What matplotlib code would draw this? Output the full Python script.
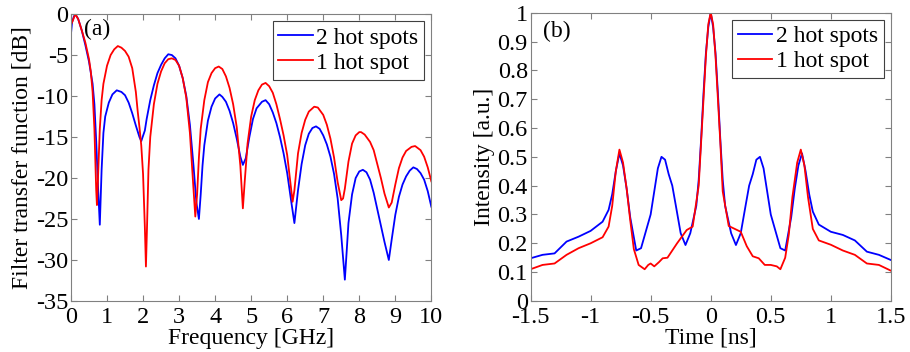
import numpy as np
import matplotlib
matplotlib.use("Agg")
import matplotlib.pyplot as plt

plt.rcParams['font.family'] = ['Liberation Serif', 'DejaVu Serif']
plt.rcParams['font.size'] = 17
plt.rcParams['axes.unicode_minus'] = False

# (a) filter transfer function
freq_2 = [0.0, 0.03, 0.08, 0.12, 0.2, 0.3, 0.4, 0.5, 0.6, 0.65, 0.7, 0.75, 0.8, 0.85, 0.9,
          0.95, 1.05, 1.15, 1.27, 1.4, 1.5, 1.6, 1.7, 1.8, 1.9, 1.95, 2.05, 2.1, 2.2, 2.3,
          2.4, 2.5, 2.6, 2.7, 2.8, 2.9, 3.0, 3.1, 3.2, 3.3, 3.4, 3.48, 3.55, 3.6, 3.65, 3.7,
          3.8, 3.9, 4.0, 4.12, 4.2, 4.3, 4.4, 4.5, 4.6, 4.7, 4.77, 4.85, 4.95, 5.05, 5.15,
          5.3, 5.4, 5.5, 5.6, 5.7, 5.8, 5.9, 6.0, 6.1, 6.2, 6.3, 6.4, 6.5, 6.6, 6.7, 6.8,
          6.9, 7.0, 7.1, 7.2, 7.3, 7.4, 7.5, 7.6, 7.65, 7.7, 7.8, 7.9, 8.0, 8.1, 8.2, 8.3,
          8.4, 8.5, 8.6, 8.7, 8.82, 8.9, 9.0, 9.1, 9.2, 9.3, 9.4, 9.5, 9.6, 9.7, 9.8, 9.9, 10.0]
db_2 = [-2.4, -1.0, -0.3, 0.0, -0.6, -2.0, -3.8, -5.8, -8.5, -11.0, -15.5, -21.0, -25.7, -19.0,
        -14.5, -12.5, -10.8, -9.8, -9.3, -9.5, -9.9, -10.8, -12.1, -13.6, -15.0, -15.5, -14.2,
        -12.8, -10.5, -8.7, -7.2, -6.2, -5.4, -4.9, -5.0, -5.4, -6.3, -7.8, -10.0, -13.5,
        -18.5, -23.0, -25.0, -22.0, -18.5, -16.0, -13.0, -11.3, -10.3, -9.8, -10.1, -10.7,
        -11.8, -13.3, -15.2, -17.4, -18.4, -17.6, -15.0, -12.8, -11.5, -10.7, -10.5, -11.0,
        -12.0, -13.3, -15.0, -17.0, -19.4, -22.5, -25.5, -21.5, -18.3, -16.0, -14.6, -13.9,
        -13.7, -14.0, -14.8, -15.9, -17.4, -19.5, -22.5, -27.0, -32.4, -29.0, -25.5, -22.0,
        -20.0, -19.2, -19.0, -19.3, -20.2, -21.8, -23.8, -25.8, -27.8, -30.0, -27.5, -24.5,
        -22.3, -20.8, -19.8, -19.1, -18.7, -18.9, -19.4, -20.2, -21.6, -23.5]

freq_1 = [0.0, 0.05, 0.12, 0.2, 0.3, 0.4, 0.5, 0.55, 0.6, 0.65, 0.7, 0.72, 0.75, 0.8, 0.85,
          0.9, 1.0, 1.1, 1.2, 1.3, 1.4, 1.5, 1.6, 1.7, 1.8, 1.85, 1.9, 1.95, 2.0, 2.05, 2.08,
          2.11, 2.15, 2.2, 2.3, 2.4, 2.5, 2.6, 2.7, 2.8, 2.9, 3.0, 3.1, 3.2, 3.3, 3.38, 3.45,
          3.5, 3.55, 3.6, 3.7, 3.8, 3.9, 4.0, 4.1, 4.2, 4.3, 4.4, 4.5, 4.6, 4.7, 4.77, 4.82,
          4.9, 5.0, 5.1, 5.2, 5.3, 5.4, 5.5, 5.6, 5.7, 5.8, 5.9, 6.0, 6.1, 6.15, 6.2, 6.3,
          6.4, 6.5, 6.6, 6.75, 6.85, 7.0, 7.1, 7.2, 7.3, 7.4, 7.5, 7.55, 7.6, 7.7, 7.8, 7.9,
          8.0, 8.05, 8.15, 8.3, 8.4, 8.5, 8.6, 8.7, 8.82, 8.9, 9.0, 9.1, 9.2, 9.3, 9.45, 9.55,
          9.7, 9.8, 9.9, 10.0]
db_1 = [-1.3, -0.8, 0.0, -0.6, -2.0, -3.5, -5.5, -7.0, -9.5, -14.0, -21.5, -23.3, -20.0, -14.0,
        -10.5, -8.5, -6.3, -5.0, -4.3, -3.9, -4.1, -4.5, -5.2, -6.6, -9.5, -11.8, -13.8, -16.0,
        -19.5, -26.0, -30.8, -26.0, -19.0, -15.0, -11.0, -8.5, -7.0, -6.0, -5.5, -5.4, -5.6,
        -6.3, -7.8, -10.2, -14.5, -20.0, -24.7, -22.0, -17.5, -14.0, -10.5, -8.3, -7.2, -6.6,
        -6.4, -6.7, -7.6, -9.0, -11.0, -13.8, -18.5, -23.7, -20.5, -15.8, -12.5, -10.5, -9.3,
        -8.6, -8.4, -8.8, -9.6, -11.0, -12.8, -14.8, -17.2, -21.0, -22.9, -21.5, -17.0, -14.5,
        -12.9, -11.9, -11.3, -11.4, -12.3, -13.5, -15.2, -17.5, -20.5, -22.7, -22.5, -21.3,
        -18.0, -15.8, -14.8, -14.4, -14.4, -14.7, -15.6, -16.6, -18.3, -20.0, -21.9, -23.6,
        -23.0, -20.8, -18.8, -17.5, -16.7, -16.2, -16.1, -16.6, -17.4, -18.7, -20.4]

# (b) intensity vs time
time_2 = [-1.5, -1.4, -1.3, -1.2, -1.1, -1.0, -0.9, -0.85, -0.82, -0.79, -0.76, -0.73, -0.7,
          -0.67, -0.62, -0.58, -0.5, -0.47, -0.44, -0.41, -0.38, -0.35, -0.32, -0.29, -0.25,
          -0.21, -0.17, -0.12, -0.1, -0.08, -0.06, -0.04, -0.02, 0.0, 0.02, 0.04, 0.06, 0.08,
          0.1, 0.12, 0.17, 0.21, 0.25, 0.29, 0.32, 0.35, 0.38, 0.41, 0.44, 0.47, 0.5, 0.58,
          0.62, 0.67, 0.7, 0.73, 0.76, 0.79, 0.82, 0.85, 0.9, 1.0, 1.1, 1.2, 1.3, 1.4, 1.5]
inten_2 = [0.148, 0.16, 0.165, 0.206, 0.223, 0.243, 0.275, 0.316, 0.37, 0.45, 0.512, 0.47, 0.39,
           0.29, 0.175, 0.183, 0.30, 0.38, 0.46, 0.50, 0.49, 0.44, 0.40, 0.33, 0.235, 0.194,
           0.235, 0.33, 0.42, 0.56, 0.72, 0.86, 0.95, 1.0, 0.95, 0.86, 0.72, 0.56, 0.42, 0.33,
           0.235, 0.194, 0.235, 0.33, 0.40, 0.44, 0.49, 0.50, 0.46, 0.38, 0.30, 0.183, 0.175,
           0.29, 0.39, 0.47, 0.512, 0.45, 0.37, 0.31, 0.265, 0.24, 0.229, 0.21, 0.171, 0.16,
           0.142]

time_1 = [-1.5, -1.4, -1.3, -1.2, -1.1, -1.0, -0.9, -0.85, -0.82, -0.79, -0.76, -0.73, -0.7,
          -0.67, -0.64, -0.6, -0.55, -0.52, -0.5, -0.47, -0.43, -0.4, -0.36, -0.32, -0.28,
          -0.2, -0.15, -0.1, -0.08, -0.06, -0.04, -0.02, 0.0, 0.02, 0.04, 0.06, 0.08, 0.1,
          0.15, 0.2, 0.25, 0.3, 0.35, 0.4, 0.45, 0.5, 0.55, 0.58, 0.62, 0.65, 0.68, 0.72,
          0.75, 0.78, 0.81, 0.85, 0.9, 1.0, 1.1, 1.2, 1.3, 1.4, 1.5]
inten_1 = [0.11, 0.125, 0.13, 0.16, 0.183, 0.2, 0.221, 0.258, 0.33, 0.45, 0.525, 0.48, 0.39,
           0.28, 0.18, 0.125, 0.11, 0.125, 0.13, 0.12, 0.135, 0.148, 0.15, 0.175, 0.2, 0.246,
           0.258, 0.40, 0.55, 0.70, 0.85, 0.96, 1.0, 0.96, 0.85, 0.70, 0.55, 0.38, 0.26, 0.25,
           0.24, 0.19, 0.155, 0.148, 0.125, 0.125, 0.12, 0.11, 0.15, 0.23, 0.36, 0.48, 0.525,
           0.47, 0.36, 0.25, 0.21, 0.195, 0.175, 0.16, 0.13, 0.125, 0.105]

fig = plt.figure(figsize=(9.1, 3.52), dpi=100)
ax1 = fig.add_axes([0.078, 0.145, 0.396, 0.815])
ax2 = fig.add_axes([0.583, 0.145, 0.396, 0.819])

ax1.plot(freq_2, db_2, color='#0000ff', lw=1.3, label='2 hot spots')
ax1.plot(freq_1, db_1, color='#ff0000', lw=1.3, label='1 hot spot')
ax1.set_xlim(0, 10)
ax1.set_ylim(-35, 0)
ax1.set_xticks(range(0, 11))
ax1.set_yticks(range(-35, 1, 5))
ax1.set_xlabel('Frequency [GHz]', labelpad=0)
ax1.set_ylabel('Filter transfer function [dB]', labelpad=2)
ax1.text(0.35, -2.6, '(a)')

ax2.plot(time_2, inten_2, color='#0000ff', lw=1.3, label='2 hot spots')
ax2.plot(time_1, inten_1, color='#ff0000', lw=1.3, label='1 hot spot')
ax2.set_xlim(-1.5, 1.5)
ax2.set_ylim(0, 1)
ax2.set_xticks([-1.5, -1, -0.5, 0, 0.5, 1, 1.5])
ax2.set_xticklabels(['-1.5', '-1', '-0.5', '0', '0.5', '1', '1.5'])
ax2.set_yticks(np.round(np.arange(0, 1.01, 0.1), 1))
ax2.set_yticklabels(['0'] + ['%.1f' % v for v in np.arange(0.1, 0.95, 0.1)] + ['1'])
ax2.set_xlabel('Time [ns]', labelpad=0)
ax2.set_ylabel('Intensity [a.u.]', labelpad=2)
ax2.text(-1.4, 0.915, '(b)')

for ax in (ax1, ax2):
    for s in ax.spines.values():
        s.set_color('#808080')
    ax.tick_params(direction='in', top=True, right=True, length=4, color='#808080',
                   labelsize=17.5, pad=2)
    ax.tick_params(axis='x', pad=4)
    leg = ax.legend(loc='upper right', fancybox=False, framealpha=1, handlelength=1.45,
                    handletextpad=0.15, borderpad=0.25, labelspacing=0.15, borderaxespad=0.3,
                    fontsize=17)
    leg.get_frame().set_edgecolor('#404040')
    leg.get_frame().set_linewidth(0.8)

fig.savefig('out.png', dpi=100)
